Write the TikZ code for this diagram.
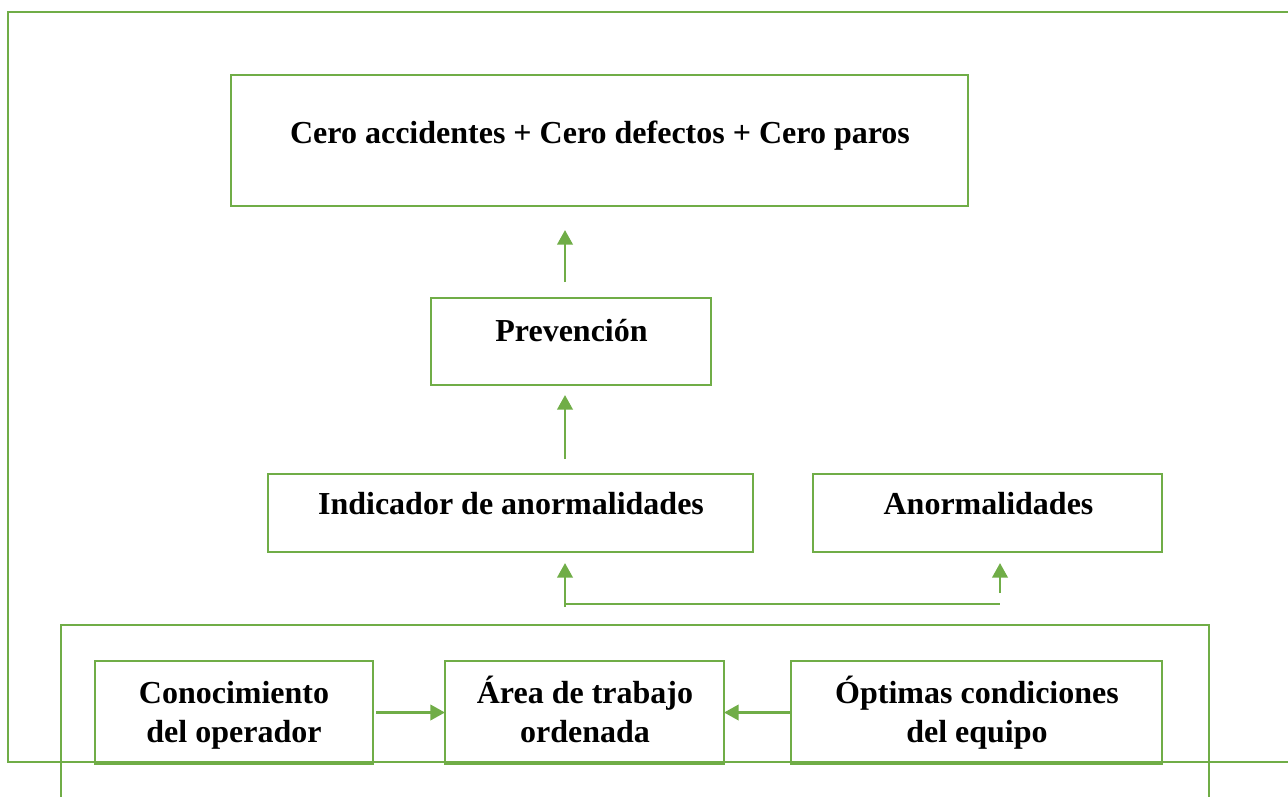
\documentclass[tikz,border=0pt]{standalone}
\usepackage{fontspec}
\setmainfont{Liberation Serif}
\usetikzlibrary{arrows.meta}
\definecolor{grn}{RGB}{112,173,71}
\tikzset{
  boxst/.style={draw=grn, line width=2.2pt, inner sep=0pt, outer sep=0pt, fill=none},
  txt/.style={font=\fontsize{24pt}{29.25pt}\selectfont\bfseries, inner sep=0pt, align=center, anchor=base},
  arr/.style={draw=grn, line width=2.2pt, -{Triangle[width=11.5pt,length=11pt]}},
  frame/.style={draw=grn, line width=2pt},
  thin/.style={draw=grn, line width=1.1pt}
}
\begin{document}
\begin{tikzpicture}[x=0.75pt,y=-0.75pt]
\useasboundingbox (0,0) rectangle (1288,796);
\clip (0,0) rectangle (1288,796);
% frames
\draw[frame] (1300,12) -- (8,12) -- (8,762) -- (1300,762);
\draw[frame] (61,810) -- (61,625) -- (1209,625) -- (1209,810);
% boxes
\node[boxst, minimum width=737*0.75pt, minimum height=131*0.75pt] (top) at (599.5,140.5) {};
\node[boxst, minimum width=280*0.75pt, minimum height=87*0.75pt] (prev) at (571,341.5) {};
\node[boxst, minimum width=485*0.75pt, minimum height=78*0.75pt] (ind) at (510.5,513) {};
\node[boxst, minimum width=349*0.75pt, minimum height=78*0.75pt] (anorm) at (987.5,513) {};
\node[boxst, minimum width=278*0.75pt, minimum height=103*0.75pt] (con) at (234,712.5) {};
\node[boxst, minimum width=279*0.75pt, minimum height=103*0.75pt] (area) at (584.5,712.5) {};
\node[boxst, minimum width=371*0.75pt, minimum height=103*0.75pt] (opt) at (976.5,712.5) {};
% texts
\node[txt] (toptxt) at (600,143) {Cero accidentes + Cero defectos + Cero paros};
\node[txt] (prevtxt) at (571.5,341) {Prevención};
\node[txt] (indtxt) at (511,514) {Indicador de anormalidades};
\node[txt] (anormtxt) at (988.5,514) {Anormalidades};
\node[txt] (contxt) at (234,742) {Conocimiento\\del operador};
\node[txt] (areatxt) at (585,742) {Área de trabajo\\ordenada};
\node[txt] (opttxt) at (977,742) {Óptimas condiciones\\del equipo};
% connectors
\coordinate (ax) at (565,0);
\coordinate (s1) at (565,607);
\coordinate (j1) at (565,604);
\coordinate (j2) at (1000,604);
\coordinate (s2) at (1000,593);
\draw[arr, shorten <=12pt, shorten >=18pt] (ax |- prev.north) -- (ax |- top.south);
\draw[arr, shorten <=11.25pt, shorten >=7.5pt] (ax |- ind.north) -- (ax |- prev.south);
\draw[thin] (j1) -- (j2);
\draw[arr, shorten >=8.25pt] (s1) -- (s1 |- ind.south);
\draw[arr, shorten >=8.25pt] (s2) -- (s2 |- anorm.south);
\draw[arr, shorten <=2.25pt] (con.east) -- (area.west);
\draw[arr, shorten <=0.75pt] (opt.west) -- (area.east);
\end{tikzpicture}
\end{document}
